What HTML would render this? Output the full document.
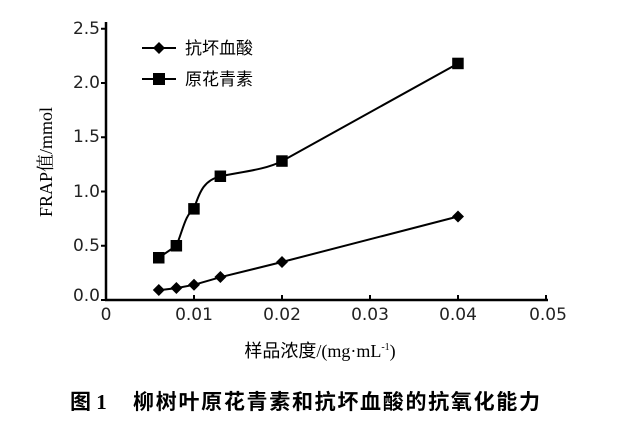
<!DOCTYPE html>
<html><head><meta charset="utf-8"><style>body{margin:0;background:#fff}svg{display:block}</style></head>
<body>
<svg width="625" height="430" xmlns="http://www.w3.org/2000/svg" font-family="'DejaVu Sans','Liberation Sans',sans-serif">
<g stroke="#000" stroke-width="2.5" fill="none">
<line x1="106" y1="22" x2="106" y2="300"/>
<line x1="105" y1="300" x2="548" y2="300"/>
</g>
<g stroke="#000" stroke-width="2">
<line x1="101" y1="300" x2="106" y2="300"/><line x1="101" y1="245.75" x2="106" y2="245.75"/><line x1="101" y1="191.5" x2="106" y2="191.5"/><line x1="101" y1="137.25" x2="106" y2="137.25"/><line x1="101" y1="83" x2="106" y2="83"/><line x1="101" y1="28.75" x2="106" y2="28.75"/>
<line x1="194" y1="300" x2="194" y2="295"/><line x1="282" y1="300" x2="282" y2="295"/><line x1="370" y1="300" x2="370" y2="295"/><line x1="458" y1="300" x2="458" y2="295"/><line x1="546" y1="300" x2="546" y2="295"/>
</g>
<g font-size="17" fill="#222" text-anchor="end">
<text x="100" y="301">0.0</text><text x="100" y="251">0.5</text><text x="100" y="197">1.0</text><text x="100" y="142">1.5</text><text x="100" y="88">2.0</text><text x="100" y="34">2.5</text>
</g>
<g font-size="17" fill="#222" text-anchor="middle">
<text x="106" y="320">0</text><text x="194" y="320">0.01</text><text x="282" y="320">0.02</text><text x="370" y="320">0.03</text><text x="458" y="320">0.04</text><text x="548" y="320">0.05</text>
</g>
<text transform="translate(52,162) rotate(-90)" font-family="'Liberation Serif','Noto Serif CJK SC',serif" font-size="18" text-anchor="middle">FRAP值/mmol</text>
<text x="320" y="357" font-family="'Liberation Serif','Noto Sans CJK SC',serif" font-size="18" text-anchor="middle">样品浓度/(mg·mL<tspan font-size="10" dy="-7">-1</tspan><tspan dy="7">)</tspan></text>
<text x="70" y="409" font-family="'Liberation Serif','Noto Sans CJK SC',serif" font-size="21" font-weight="bold">图 1</text>
<text x="133" y="409" font-family="'Liberation Serif','Noto Sans CJK SC',serif" font-size="21" font-weight="bold" textLength="407" lengthAdjust="spacing">柳树叶原花青素和抗坏血酸的抗氧化能力</text>
<g stroke="#000" stroke-width="2" fill="none">
<path d="M158.8,257.7 L176.4,245.75 C183,230 185,215 194,208.9 C200,190 205,180 220.4,176.3 C240,172 265,170 282,161.1 L458,63.5"/>
<path d="M158.8,290.2 L176.4,288.1 L194,284.8 L220.4,277.2 L282,262 L458,216.5"/>
</g>
<g fill="#000">
<rect x="153" y="252" width="11.5" height="11.5"/><rect x="170.6" y="240" width="11.5" height="11.5"/><rect x="188.2" y="203.1" width="11.5" height="11.5"/><rect x="214.6" y="170.5" width="11.5" height="11.5"/><rect x="276.2" y="155.3" width="11.5" height="11.5"/><rect x="452.2" y="57.7" width="11.5" height="11.5"/>
<path d="M158.8,284 l6,6 -6,6 -6,-6z M176.4,282 l6,6 -6,6 -6,-6z M194,278.7 l6,6 -6,6 -6,-6z M220.4,271 l6,6 -6,6 -6,-6z M282,256 l6,6 -6,6 -6,-6z M458,210.5 l6,6 -6,6 -6,-6z"/>
</g>
<line x1="142" y1="48" x2="176" y2="48" stroke="#000" stroke-width="2"/>
<path d="M159,42 l6,6 -6,6 -6,-6z"/>
<line x1="142" y1="79" x2="176" y2="79" stroke="#000" stroke-width="2"/>
<rect x="153" y="73" width="12" height="12"/>
<g font-family="'Liberation Sans','Noto Sans CJK SC',sans-serif" font-size="17">
<text x="185" y="54">抗坏血酸</text><text x="185" y="85">原花青素</text>
</g>
</svg>
</body></html>
